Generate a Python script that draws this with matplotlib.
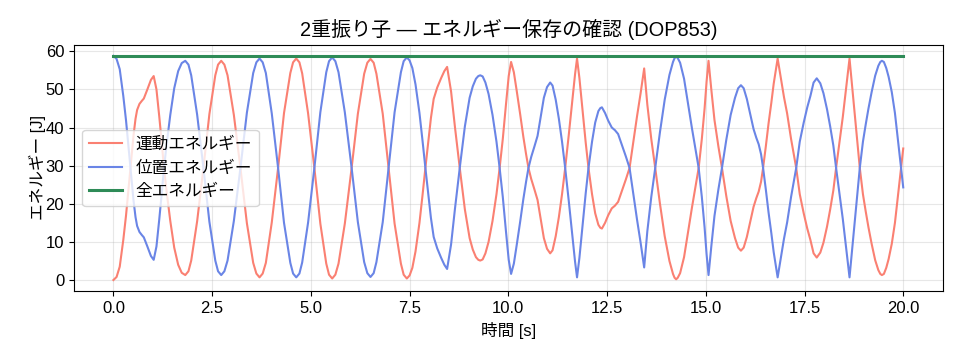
import matplotlib
matplotlib.use("Agg")
import matplotlib.pyplot as plt

plt.rcParams['font.family'] = ['Liberation Sans', 'Noto Sans CJK JP', 'DejaVu Sans']
plt.rcParams['font.size'] = 12

# values
time_s = [
    0.00, 0.08, 0.16, 0.25, 0.32, 0.38, 0.45, 0.51, 0.56, 0.60, 0.66, 0.72, 0.77, 0.86, 0.95, 1.02,
    1.09, 1.16, 1.22, 1.28, 1.35, 1.44, 1.54, 1.64, 1.73, 1.82,
    1.90, 1.97, 2.12, 2.28, 2.43, 2.58, 2.65, 2.73,
    2.81, 2.89, 3.05, 3.22, 3.38, 3.54, 3.62, 3.70,
    3.78, 3.86, 4.01, 4.17, 4.32, 4.48, 4.55, 4.63,
    4.71, 4.78, 4.93, 5.09, 5.24, 5.39, 5.46, 5.54,
    5.62, 5.70, 5.86, 6.03, 6.19, 6.35, 6.43, 6.51,
    6.59, 6.66, 6.82, 6.97, 7.12, 7.28, 7.35, 7.43,
    7.50, 7.57, 7.65, 7.75, 7.83, 7.90, 7.97, 8.04, 8.11, 8.20, 8.30, 8.38, 8.45,
    8.55, 8.65, 8.77, 8.90, 9.02, 9.10, 9.18, 9.24, 9.29,
    9.35, 9.42, 9.50, 9.60, 9.70, 9.78, 9.86, 9.94, 10.01, 10.07,
    10.14, 10.21, 10.30, 10.38, 10.45, 10.51, 10.58, 10.66, 10.74, 10.82, 10.90, 10.98, 11.06,
    11.12, 11.20, 11.28, 11.36, 11.44, 11.53, 11.62, 11.69, 11.74,
    11.80, 11.88, 11.96, 12.03, 12.12, 12.20, 12.28, 12.33, 12.37,
    12.45, 12.53, 12.62, 12.70, 12.78, 12.88, 12.98, 13.07, 13.17, 13.26, 13.35, 13.44,
    13.52, 13.62, 13.72, 13.84, 13.96, 14.08, 14.17, 14.21, 14.25,
    14.29, 14.35, 14.45, 14.55, 14.65, 14.74, 14.82, 14.90, 14.97, 15.02, 15.07,
    15.14, 15.22, 15.32, 15.41, 15.52, 15.63, 15.74, 15.82, 15.89,
    15.96, 16.04, 16.12, 16.21, 16.28, 16.34, 16.40, 16.45, 16.52, 16.59, 16.66, 16.72, 16.78, 16.82,
    16.90, 16.98, 17.06, 17.16, 17.29, 17.38, 17.48, 17.57, 17.65, 17.73, 17.81,
    17.90, 17.98, 18.07, 18.15, 18.23, 18.30, 18.38, 18.47, 18.55, 18.60, 18.64,
    18.70, 18.77, 18.84, 18.90, 18.98, 19.05, 19.12, 19.20, 19.29, 19.37, 19.42, 19.46,
    19.51, 19.57, 19.63, 19.71, 19.79, 19.86, 19.93, 20.00,
]

kinetic = [
    0.0, 0.8, 3.5, 10.5, 17.0, 23.6, 31.0, 38.0, 42.3, 44.6, 46.2, 47.0, 47.6, 50.0, 52.5, 53.5,
    50.0, 43.0, 36.5, 29.5, 23.0, 15.5, 8.5, 4.0, 1.9, 1.3,
    2.3, 5.1, 15.4, 29.4, 43.5, 53.7, 56.5, 57.5,
    56.5, 53.7, 43.3, 29.1, 14.9, 4.5, 1.7, 0.7,
    1.7, 4.5, 15.1, 29.4, 43.8, 54.3, 57.1, 58.1,
    57.1, 54.2, 43.7, 29.3, 14.8, 4.3, 1.4, 0.4,
    1.4, 4.3, 14.8, 29.2, 43.6, 54.1, 57.0, 58.0,
    57.0, 54.1, 43.6, 29.2, 14.8, 4.3, 1.4, 0.4,
    1.2, 3.2, 7.5, 15.0, 22.5, 29.4, 36.0, 42.5, 47.5, 50.5, 53.0, 54.8, 55.9,
    49.5, 40.0, 29.4, 18.5, 11.0, 8.0, 6.0, 5.3, 5.1,
    5.4, 7.0, 10.0, 15.5, 22.5, 29.4, 37.0, 46.0, 53.5, 57.2,
    54.5, 49.8, 43.5, 37.6, 33.0, 29.4, 26.5, 23.8, 21.0, 16.0, 11.0, 8.2, 7.0,
    7.8, 11.5, 16.5, 22.5, 29.4, 38.0, 47.0, 54.0, 58.1,
    53.0, 44.5, 36.0, 29.4, 22.5, 17.5, 14.5, 13.7, 13.5,
    15.0, 17.0, 18.8, 19.5, 20.5, 23.5, 26.5, 29.4, 36.5, 43.0, 49.0, 55.5,
    46.0, 37.0, 29.4, 20.0, 11.5, 5.0, 1.6, 0.6, 0.2,
    0.6, 1.8, 6.0, 12.5, 19.0, 24.5, 29.4, 37.0, 45.0, 52.0, 57.5,
    50.0, 42.0, 35.0, 29.4, 22.0, 15.5, 11.0, 8.5, 7.7,
    8.5, 11.3, 15.0, 19.2, 21.5, 23.2, 25.8, 29.3, 35.0, 41.1, 46.5, 51.5, 55.5, 58.1,
    53.0, 48.0, 43.7, 37.0, 29.4, 22.5, 17.5, 13.5, 10.5, 7.0, 5.9,
    7.2, 9.8, 14.0, 18.5, 23.5, 29.4, 35.8, 42.8, 50.0, 54.5, 58.1,
    51.5, 43.5, 36.0, 29.4, 22.5, 18.0, 13.8, 9.5, 5.2, 2.6, 1.6, 1.3,
    1.6, 3.2, 5.5, 9.5, 15.0, 21.5, 28.0, 34.5,
]

potential = [
    58.8, 58.0, 55.3, 48.3, 41.8, 35.2, 27.8, 20.8, 16.5, 14.2, 12.6, 11.8, 11.2, 8.8, 6.3, 5.3,
    8.8, 15.8, 22.3, 29.3, 35.8, 43.3, 50.3, 54.8, 56.9, 57.5,
    56.5, 53.7, 43.4, 29.4, 15.3, 5.1, 2.3, 1.3,
    2.3, 5.1, 15.5, 29.7, 43.9, 54.3, 57.1, 58.1,
    57.1, 54.3, 43.7, 29.4, 15.0, 4.5, 1.7, 0.7,
    1.7, 4.6, 15.1, 29.5, 44.0, 54.5, 57.4, 58.4,
    57.4, 54.5, 44.0, 29.6, 15.2, 4.7, 1.8, 0.8,
    1.8, 4.7, 15.2, 29.6, 44.0, 54.5, 57.4, 58.4,
    57.6, 55.6, 51.3, 43.8, 36.3, 29.4, 22.8, 16.3, 11.3, 8.3, 5.8, 4.0, 2.9,
    9.3, 18.8, 29.4, 40.3, 47.8, 50.8, 52.8, 53.5, 53.7,
    53.4, 51.8, 48.8, 43.3, 36.3, 29.4, 21.8, 12.8, 5.3, 1.6,
    4.3, 9.0, 15.3, 21.2, 25.8, 29.4, 32.3, 35.0, 37.8, 42.8, 47.8, 50.6, 51.8,
    51.0, 47.3, 42.3, 36.3, 29.4, 20.8, 11.8, 4.8, 0.7,
    5.8, 14.3, 22.8, 29.4, 36.3, 41.3, 44.3, 45.1, 45.3,
    43.8, 41.8, 40.0, 39.3, 38.3, 35.3, 32.3, 29.4, 22.3, 15.8, 9.8, 3.3,
    12.8, 21.8, 29.4, 38.8, 47.3, 53.8, 57.2, 58.2, 58.6,
    58.2, 57.0, 52.8, 46.3, 39.8, 34.3, 29.4, 21.8, 13.8, 6.8, 1.3,
    8.8, 16.8, 23.8, 29.4, 36.8, 43.3, 47.8, 50.3, 51.1,
    50.3, 47.5, 43.8, 39.6, 37.3, 35.6, 33.0, 29.5, 23.8, 17.7, 12.3, 7.3, 3.3, 0.7,
    5.8, 10.8, 15.1, 21.8, 29.4, 36.3, 41.3, 45.3, 48.3, 51.8, 52.9,
    51.6, 49.0, 44.8, 40.3, 35.3, 29.4, 23.0, 16.0, 8.8, 4.3, 0.7,
    7.3, 15.3, 22.8, 29.4, 36.3, 40.8, 45.0, 49.3, 53.6, 56.2, 57.2, 57.5,
    57.2, 55.6, 53.3, 49.3, 43.8, 37.3, 30.8, 24.3,
]

total_energy = 58.8
total = [total_energy] * len(time_s)

fig, ax = plt.subplots(figsize=(9.6, 3.6), dpi=100)
fig.subplots_adjust(left=0.077, right=0.982, bottom=0.191, top=0.876)

ax.plot(time_s, kinetic, color='#fa8072', lw=1.5, label='運動エネルギー')
ax.plot(time_s, potential, color='#6a85e6', lw=1.5, label='位置エネルギー')
ax.plot(time_s, total, color='#2e8b57', lw=2.2, label='全エネルギー')

ax.set_title('2重振り子 — エネルギー保存の確認 (DOP853)')
ax.set_xlabel('時間 [s]')
ax.set_ylabel('エネルギー [J]', labelpad=0)
ax.grid(True, alpha=0.3)
ax.legend(loc='center left')

fig.savefig('out.png')
